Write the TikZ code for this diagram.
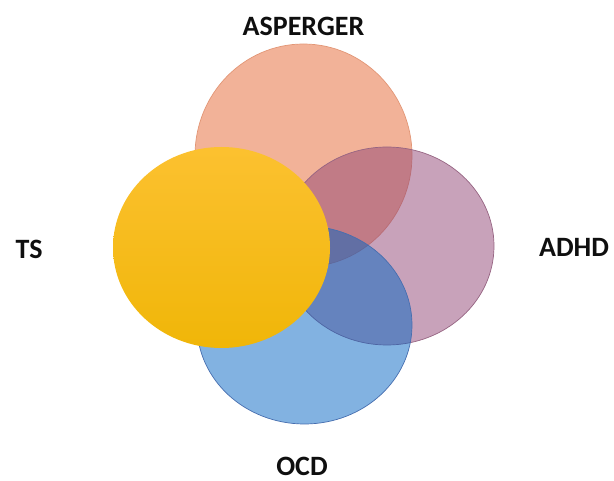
\documentclass[tikz,border=0pt]{standalone}
\usepackage{fontspec}
\setmainfont{Carlito}
\usetikzlibrary{shapes.geometric}
\definecolor{aspfill}{RGB}{242,178,152}
\definecolor{aspline}{RGB}{226,150,118}
\definecolor{adhdfill}{RGB}{145,69,117}
\definecolor{adhdline}{RGB}{150,100,130}
\definecolor{ocdfill}{RGB}{5,101,195}
\definecolor{ocdline}{RGB}{70,110,175}
\definecolor{tstop}{RGB}{252,193,48}
\definecolor{tsmid}{RGB}{255,196,0}
\definecolor{tsbot}{RGB}{240,182,8}
\definecolor{labelcol}{RGB}{15,15,15}
\tikzset{
  setshape/.style={ellipse, inner sep=0pt, line width=0.7pt},
  setlabel/.style={font=\fontsize{28}{30}\selectfont\bfseries, text=labelcol, inner sep=0pt}
}
\begin{document}
\begin{tikzpicture}[x=1pt,y=-1pt]
\useasboundingbox (0,0) rectangle (614,481);
\node[setshape, fill=aspfill, draw=aspline, minimum width=217pt, minimum height=223pt] (asp) at (303.5,155.5) {};
\node[setshape, fill=adhdfill, fill opacity=0.5, draw=adhdline, minimum width=214pt, minimum height=198pt] (adhd) at (387,246) {};
\node[setshape, fill=ocdfill, fill opacity=0.5, draw=ocdline, minimum width=215pt, minimum height=198pt] (ocd) at (304.5,325) {};
\node[setshape, draw=none, top color=tstop, middle color=tsmid, bottom color=tsbot, minimum width=217pt, minimum height=201pt] (ts) at (221.5,247.5) {};
\node[setlabel] (lasp) at (303.5,26) {ASPERGER};
\node[setlabel] (lts) at (29,249) {TS};
\node[setlabel] (ladhd) at (574,247) {ADHD};
\node[setlabel] (locd) at (302,466) {OCD};
\end{tikzpicture}
\end{document}
